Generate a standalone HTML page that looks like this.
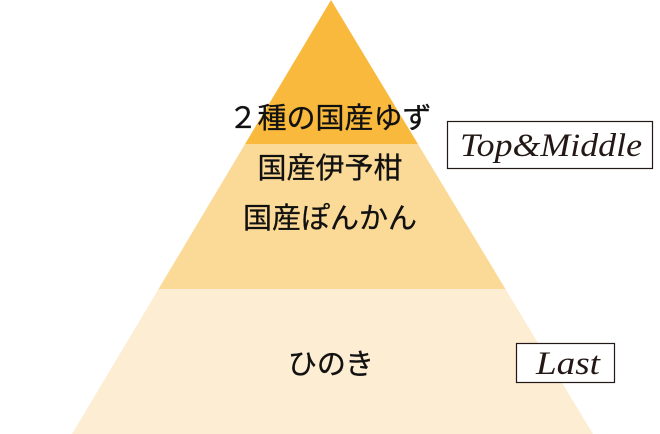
<!DOCTYPE html>
<html><head><meta charset="utf-8"><style>
html,body{margin:0;padding:0;background:#fff;}
body{width:660px;height:434px;position:relative;overflow:hidden;}
svg{position:absolute;left:0;top:0;}
</style></head><body>
<svg width="660" height="434" viewBox="0 0 660 434">
<defs><clipPath id="tri"><polygon points="331,0 593,434 72,434"/></clipPath></defs>
<g clip-path="url(#tri)">
<rect x="0" y="0" width="660" height="144" fill="#F8B93D"/>
<rect x="0" y="144" width="660" height="145" fill="#FBD996"/>
<rect x="0" y="289" width="660" height="145" fill="#FDEDD3"/>
</g>
<g font-family="'Liberation Sans','Noto Sans CJK JP',sans-serif" font-size="29" fill="#111" text-anchor="middle" stroke="#111" stroke-width="0.3">
<text x="330" y="128">２種の国産ゆず</text>
<text x="330" y="178">国産伊予柑</text>
<text x="330" y="228">国産ぽんかん</text>
<text x="331" y="374">ひのき</text>
</g>
<rect x="447.5" y="121.5" width="205" height="47" fill="#fff" stroke="#231815" stroke-width="1.2"/>
<text x="551" y="156" font-family="'Liberation Serif',serif" font-style="italic" font-size="33" fill="#231815" text-anchor="middle" textLength="182" lengthAdjust="spacingAndGlyphs">Top&amp;Middle</text>
<rect x="516.5" y="343.5" width="98" height="39" fill="#fff" stroke="#231815" stroke-width="1.2"/>
<text x="568" y="374" font-family="'Liberation Serif',serif" font-style="italic" font-size="33" fill="#231815" text-anchor="middle" textLength="64" lengthAdjust="spacingAndGlyphs">Last</text>
</svg>
</body></html>
